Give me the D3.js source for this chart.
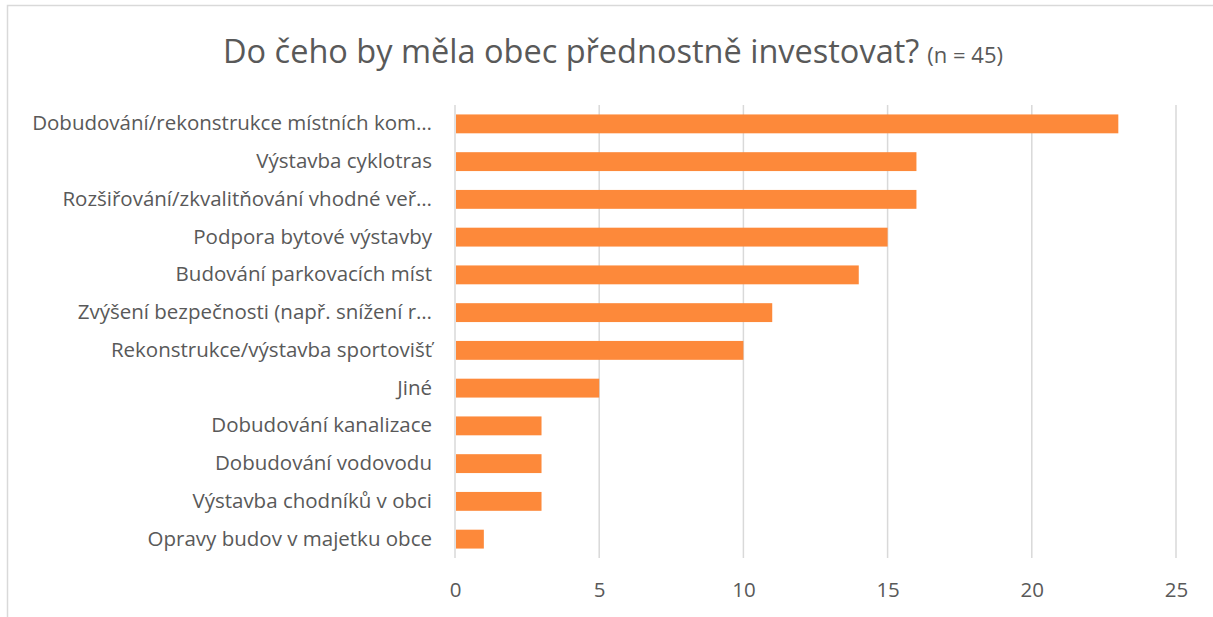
<!DOCTYPE html>
<html>
<head>
<meta charset="utf-8">
<script src="https://cdn.jsdelivr.net/npm/d3@7"></script>
<style>
  body { margin: 0; background: #fff; }
  svg { display: block; font-family: "Open Sans", sans-serif; }
</style>
</head>
<body>
<div id="chart"></div>
<script>
// values
var categories = [
    "Dobudování/rekonstrukce místních kom…",
    "Výstavba cyklotras",
    "Rozšiřování/zkvalitňování vhodné veř…",
    "Podpora bytové výstavby",
    "Budování parkovacích míst",
    "Zvýšení bezpečnosti (např. snížení r…",
    "Rekonstrukce/výstavba sportovišť",
    "Jiné",
    "Dobudování kanalizace",
    "Dobudování vodovodu",
    "Výstavba chodníků v obci",
    "Opravy budov v majetku obce"
];
var counts = [23, 16, 16, 15, 14, 11, 10, 5, 3, 3, 3, 1];
var xTicks = [0, 5, 10, 15, 20, 25];

var titleMain = "Do čeho by měla obec přednostně investovat?";
var titleNote = "(n = 45)";

var width = 1213, height = 617;
var margin = { left: 455, right: 37, top: 105, bottom: 59 };
var innerW = width - margin.left - margin.right;
var innerH = height - margin.top - margin.bottom;

var svg = d3.select("#chart").append("svg")
    .attr("width", width)
    .attr("height", height);

// chart frame
svg.append("rect")
    .attr("x", 7.5)
    .attr("y", 5.5)
    .attr("width", 1220)
    .attr("height", 640)
    .attr("fill", "none")
    .attr("stroke", "#d9d9d9")
    .attr("stroke-width", 1.5);

var title = svg.append("text")
    .attr("x", 613)
    .attr("y", 63)
    .attr("text-anchor", "middle")
    .style("fill", "#595959");
title.append("tspan").attr("font-size", "32.5px").text(titleMain);
title.append("tspan").attr("font-size", "22px").attr("dx", 8).text(titleNote);

var g = svg.append("g")
    .attr("transform", "translate(" + margin.left + "," + margin.top + ")");

var x = d3.scaleLinear().domain([0, 25]).range([0, innerW]);
var y = d3.scaleBand().domain(categories).range([0, innerH]).paddingInner(0.5).paddingOuter(0.25);

// gridlines
g.selectAll(".grid")
    .data(xTicks)
    .enter().append("line")
    .attr("class", "grid")
    .attr("x1", function(d) { return x(d); })
    .attr("x2", function(d) { return x(d); })
    .attr("y1", 0)
    .attr("y2", innerH)
    .attr("stroke", "#d9d9d9")
    .attr("stroke-width", 1.5);

g.selectAll(".bar")
    .data(counts)
    .enter().append("rect")
    .attr("class", "bar")
    .attr("x", x(0) + 1)
    .attr("y", function(d, i) { return y(categories[i]); })
    .attr("width", function(d) { return x(d) - x(0) - 1; })
    .attr("height", y.bandwidth())
    .attr("fill", "#fd893a");

// x axis
var xAxis = g.append("g")
    .attr("transform", "translate(0," + innerH + ")")
    .call(d3.axisBottom(x).tickValues(xTicks).tickSize(0).tickPadding(24));
xAxis.select(".domain").remove();
xAxis.selectAll("text")
    .attr("font-size", "20.5px")
    .attr("font-family", "Open Sans, sans-serif")
    .style("fill", "#595959");

// y axis
var yAxis = g.append("g")
    .call(d3.axisLeft(y).tickSize(0).tickPadding(23));
yAxis.select(".domain").remove();
yAxis.selectAll("text")
    .attr("font-size", "20.5px")
    .attr("font-family", "Open Sans, sans-serif")
    .style("fill", "#595959");
</script>
</body>
</html>
